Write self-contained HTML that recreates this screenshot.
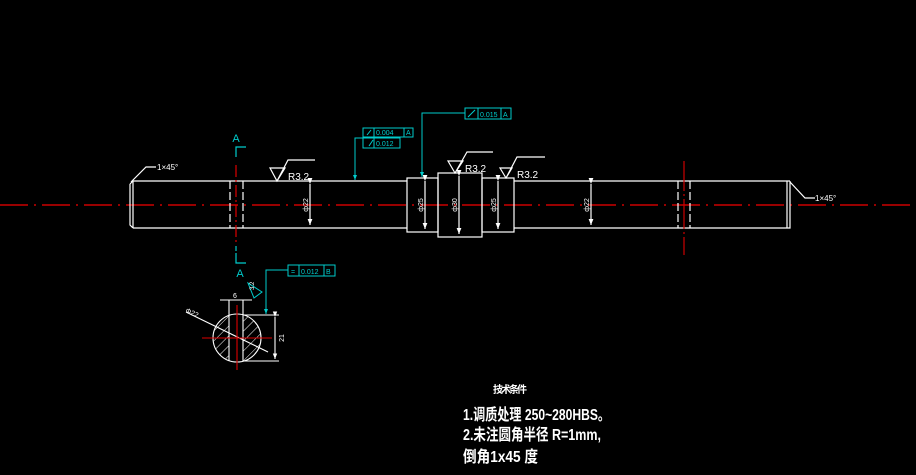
<!DOCTYPE html>
<html><head><meta charset="utf-8"><style>
html,body{margin:0;padding:0;background:#000;width:916px;height:475px;overflow:hidden}
svg{display:block}
text{font-family:"Liberation Sans","Noto Sans CJK SC",sans-serif}
</style></head><body>
<svg width="916" height="475" viewBox="0 0 916 475" xmlns="http://www.w3.org/2000/svg">
<defs>
<marker id="ar" markerWidth="6" markerHeight="6" refX="5" refY="3" orient="auto"><path d="M0,1 L5,3 L0,5z" fill="#fff"/></marker>
<marker id="ac" markerWidth="6" markerHeight="6" refX="5" refY="3" orient="auto"><path d="M0,1 L5,3 L0,5z" fill="#0cc"/></marker>
<pattern id="h" width="7" height="7" patternUnits="userSpaceOnUse" patternTransform="rotate(45)"><line x1="0" y1="0" x2="0" y2="7" stroke="#fff" stroke-width="1"/></pattern>
</defs>
<line x1="0" y1="205" x2="916" y2="205" stroke="#c00" stroke-width="1.5" stroke-dasharray="28,6,2,6"/>
<g stroke="#fff" stroke-width="1.2" fill="none">
<path d="M130,184 L130,225 L133,228 M130,184 L133,181 M133,181 L133,228"/>
<path d="M133,181 L407,181 M133,228 L407,228"/>
<path d="M230,181 L230,228 M243,181 L243,228" stroke-dasharray="8,3"/>
<rect x="407" y="178" width="31" height="54"/>
<rect x="438" y="173" width="44" height="64"/>
<rect x="482" y="178" width="32" height="54"/>
<path d="M514,181 L790,181 M514,228 L790,228 L790,181 M787,181 L787,228"/>
<path d="M678,181 L678,228 M690,181 L690,228" stroke-dasharray="8,3"/>
<line x1="310" y1="184" x2="310" y2="225" marker-start="url(#ar)" marker-end="url(#ar)"/>
<line x1="425" y1="181" x2="425" y2="229" marker-start="url(#ar)" marker-end="url(#ar)"/>
<line x1="459" y1="176" x2="459" y2="234" marker-start="url(#ar)" marker-end="url(#ar)"/>
<line x1="498" y1="181" x2="498" y2="229" marker-start="url(#ar)" marker-end="url(#ar)"/>
<line x1="591" y1="184" x2="591" y2="225" marker-start="url(#ar)" marker-end="url(#ar)"/>
<path d="M131,182 L146,167 L156,167"/>
<path d="M790,182 L805,198 L815,198"/>
<path d="M270,168 L285,168 L277,181 Z M277,181 L288,160 L315,160"/>
<path d="M448,161 L463,161 L455,173 Z M455,173 L467,152 L493,152"/>
<path d="M500,168 L512,168 L506,178 Z M506,178 L517,157 L545,157"/>
</g>
<g fill="#fff" font-size="10">
<text x="288" y="180">R3.2</text>
<text x="465" y="172">R3.2</text>
<text x="517" y="178">R3.2</text>
<text x="157" y="170" font-size="8">1×45°</text>
<text x="815" y="201" font-size="8">1×45°</text>
<g font-size="7">
<text transform="translate(308,205) rotate(-90)" text-anchor="middle">ф22</text>
<text transform="translate(423,205) rotate(-90)" text-anchor="middle">ф25</text>
<text transform="translate(457,205) rotate(-90)" text-anchor="middle">ф30</text>
<text transform="translate(496,205) rotate(-90)" text-anchor="middle">ф25</text>
<text transform="translate(589,205) rotate(-90)" text-anchor="middle">ф22</text>
</g>
</g>
<line x1="236" y1="165" x2="236" y2="245" stroke="#d00" stroke-width="1.2" stroke-dasharray="12,3,2,3"/>
<line x1="684" y1="161" x2="684" y2="255" stroke="#c00" stroke-width="1.2" stroke-dasharray="30,3,2,3"/>
<g stroke="#0cc" stroke-width="1.2" fill="none">
<path d="M236,157 L236,147 L246,147"/>
<path d="M236,253 L236,263 L246,263"/>
<line x1="236" y1="246" x2="236" y2="251"/>
</g>
<text x="236" y="142" fill="#0cc" font-size="11" text-anchor="middle">A</text>
<text x="240" y="277" fill="#0cc" font-size="11" text-anchor="middle">A</text>
<g stroke="#0cc" stroke-width="1" fill="none">
<rect x="363" y="128" width="50" height="9"/>
<line x1="374" y1="128" x2="374" y2="137"/><line x1="404" y1="128" x2="404" y2="137"/>
<rect x="363" y="138" width="37" height="10"/>
<line x1="374" y1="138" x2="374" y2="148"/>
<path d="M363,138 L355,138 L355,180" marker-end="url(#ac)"/>
<rect x="465" y="108" width="46" height="11"/>
<line x1="478" y1="108" x2="478" y2="119"/><line x1="501" y1="108" x2="501" y2="119"/>
<path d="M465,113 L422,113 L422,177" marker-end="url(#ac)"/>
<path d="M367,135 L371,130 M369,146 L373,140 M468,117 L475,110"/>
<rect x="288" y="265" width="47" height="11"/>
<line x1="299" y1="265" x2="299" y2="276"/><line x1="324" y1="265" x2="324" y2="276"/>
<path d="M288,270 L266,270 L266,314" marker-end="url(#ac)"/>
<path d="M248,283 L262,292 L254,298 Z"/>
</g>
<g fill="#0cc" font-size="7">
<text x="376" y="135">0.004</text><text x="406" y="135">A</text>
<text x="376" y="146">0.012</text>
<text x="480" y="117">0.015</text><text x="503" y="117">A</text>
<text x="301" y="274">0.012</text><text x="326" y="274">B</text>
<text x="291" y="274">=</text>
</g>
<clipPath id="cc"><circle cx="237" cy="338" r="24"/></clipPath>
<g clip-path="url(#cc)">
<rect x="210" y="310" width="19" height="60" fill="url(#h)"/>
<rect x="243" y="310" width="30" height="60" fill="url(#h)"/>
</g>
<g stroke="#fff" stroke-width="1.1" fill="none">
<circle cx="237" cy="338" r="24"/>
<path d="M229,300 L229,361 M243,300 L243,361 M243,315 L279,315 M243,361 L279,361"/>
<line x1="275" y1="317" x2="275" y2="359" marker-start="url(#ar)" marker-end="url(#ar)"/>
<path d="M220,300 L252,300"/>
<path d="M186,312 L268,352"/>
</g>
<line x1="237" y1="305" x2="237" y2="370" stroke="#d00" stroke-width="1.1"/>
<line x1="202" y1="338" x2="272" y2="338" stroke="#d00" stroke-width="1.1"/>
<g fill="#fff" font-size="7">
<text x="233" y="298">6</text>
<text transform="translate(185,312) rotate(25)">Φ22</text>
<text transform="translate(284,338) rotate(-90)" text-anchor="middle">21</text>
<text transform="translate(254,290) rotate(-90)" font-size="6">3.2</text>
</g>
<g fill="#fff" font-family="'Noto Serif CJK SC','Liberation Serif',serif" font-weight="bold">
<text x="493" y="393" font-size="10" textLength="34">技术条件</text>
<text x="463" y="420" font-size="16" textLength="147" lengthAdjust="spacingAndGlyphs">1.调质处理 250~280HBS。</text>
<text x="463" y="440" font-size="16" textLength="138" lengthAdjust="spacingAndGlyphs">2.未注圆角半径 R=1mm,</text>
<text x="463" y="462" font-size="16" textLength="75" lengthAdjust="spacingAndGlyphs">倒角1x45  度</text>
</g>
</svg>
</body></html>
